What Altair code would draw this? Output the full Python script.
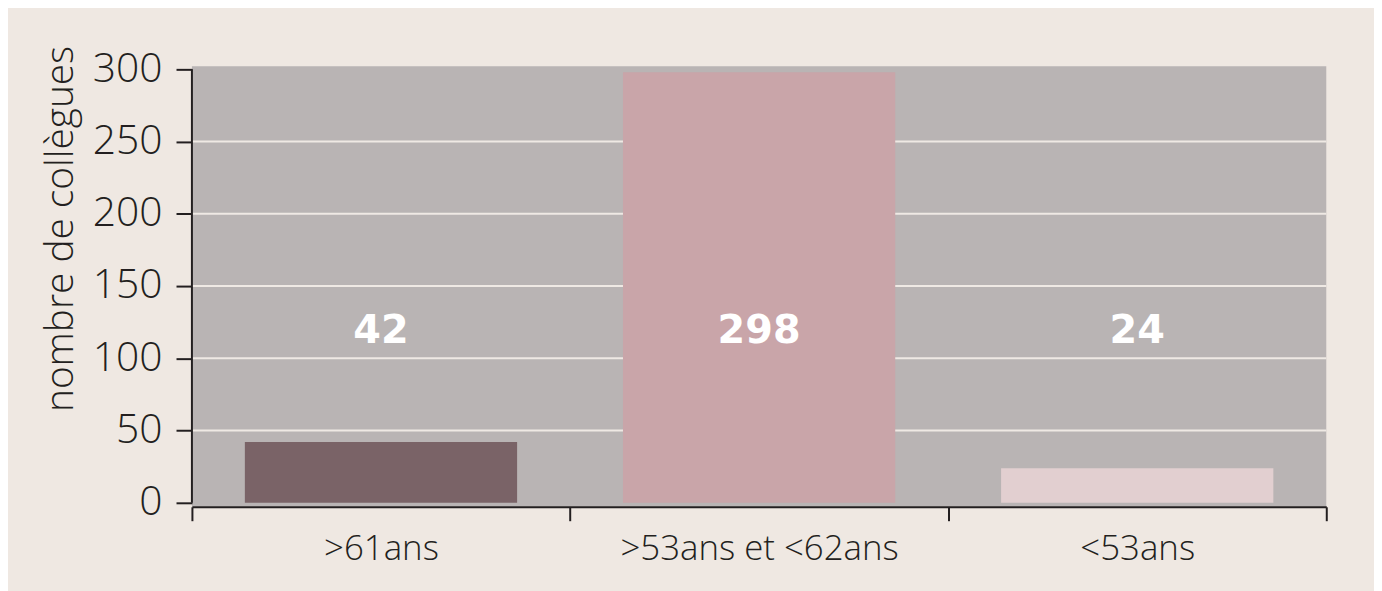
import altair as alt
import pandas as pd

categories = [">61ans", ">53ans et <62ans", "<53ans"]
values = [42, 298, 24]
bar_colors = ["#7a6367", "#c9a5a9", "#e2cfd0"]
y_ticks = [0, 50, 100, 150, 200, 250, 300]
grid_values = [50, 100, 150, 200, 250]
label_level = 119

df = pd.DataFrame({"cat": categories, "val": values, "lab": [str(v) for v in values],
                   "lvl": [label_level] * len(values)})
grid_df = pd.DataFrame({"val": grid_values})
axis_df = pd.DataFrame({"val": [y_ticks[0]], "b": [y_ticks[-1]]})

FONT = "Open Sans"
INK = "#231f20"
yscale = alt.Scale(domain=[-2.75, 302], nice=False, zero=False)
xscale = alt.Scale(domain=categories, paddingInner=0, paddingOuter=0)

yaxis = alt.Axis(values=y_ticks, title="nombre de collègues", grid=False,
                 domain=False, labelFontSize=41, labelFont=FONT, labelFontWeight=300,
                 labelColor=INK, labelPadding=14, tickSize=16,
                 tickWidth=2, tickColor=INK,
                 titleFont=FONT, titleFontSize=39, titleFontWeight=300,
                 titleColor=INK, titleAngle=-90, titleAlign="center",
                 titleBaseline="middle", titleX=-132, titleY=163)
xaxis = alt.Axis(title=None, tickBand="extent", labelAngle=0, labelLimit=0,
                 labelFontSize=35, labelFont=FONT, labelFontWeight=300, labelColor=INK,
                 labelPadding=11, tickSize=14, tickWidth=2, tickColor=INK,
                 domainColor=INK, domainWidth=2, grid=False)

Y = lambda f: alt.Y(f, scale=yscale, axis=yaxis)
X = lambda: alt.X("cat:N", sort=categories, scale=xscale, axis=xaxis)

grid = alt.Chart(grid_df).mark_rule(color="#efe9e4", strokeWidth=2).encode(
    y=Y("val:Q")
)

bars = alt.Chart(df).mark_bar(width=alt.RelativeBandSize(0.72)).encode(
    x=X(),
    y=Y("val:Q"),
    y2=alt.datum(0),
    color=alt.Color("cat:N", scale=alt.Scale(domain=categories, range=bar_colors), legend=None),
)

yline = alt.Chart(axis_df).mark_rule(color=INK, strokeWidth=2).encode(
    x=alt.value(0), y=Y("val:Q"), y2="b:Q"
)

texts = alt.Chart(df).mark_text(color="white", fontWeight="bold", fontSize=40,
                                font="DejaVu Sans", baseline="middle", align="center").encode(
    x=X(),
    y=Y("lvl:Q"),
    text="lab:N",
)

chart = alt.layer(grid, bars, yline, texts).properties(
    width=1141, height=443,
    background="#efe8e2",
    padding={"left": 185, "top": 57, "right": 48, "bottom": 83},
    autosize=alt.AutoSizeParams(type="none"),
).configure_view(fill="#b9b4b4", stroke=None)

chart.save("out.html", embed_options={"renderer": "svg", "actions": False})
